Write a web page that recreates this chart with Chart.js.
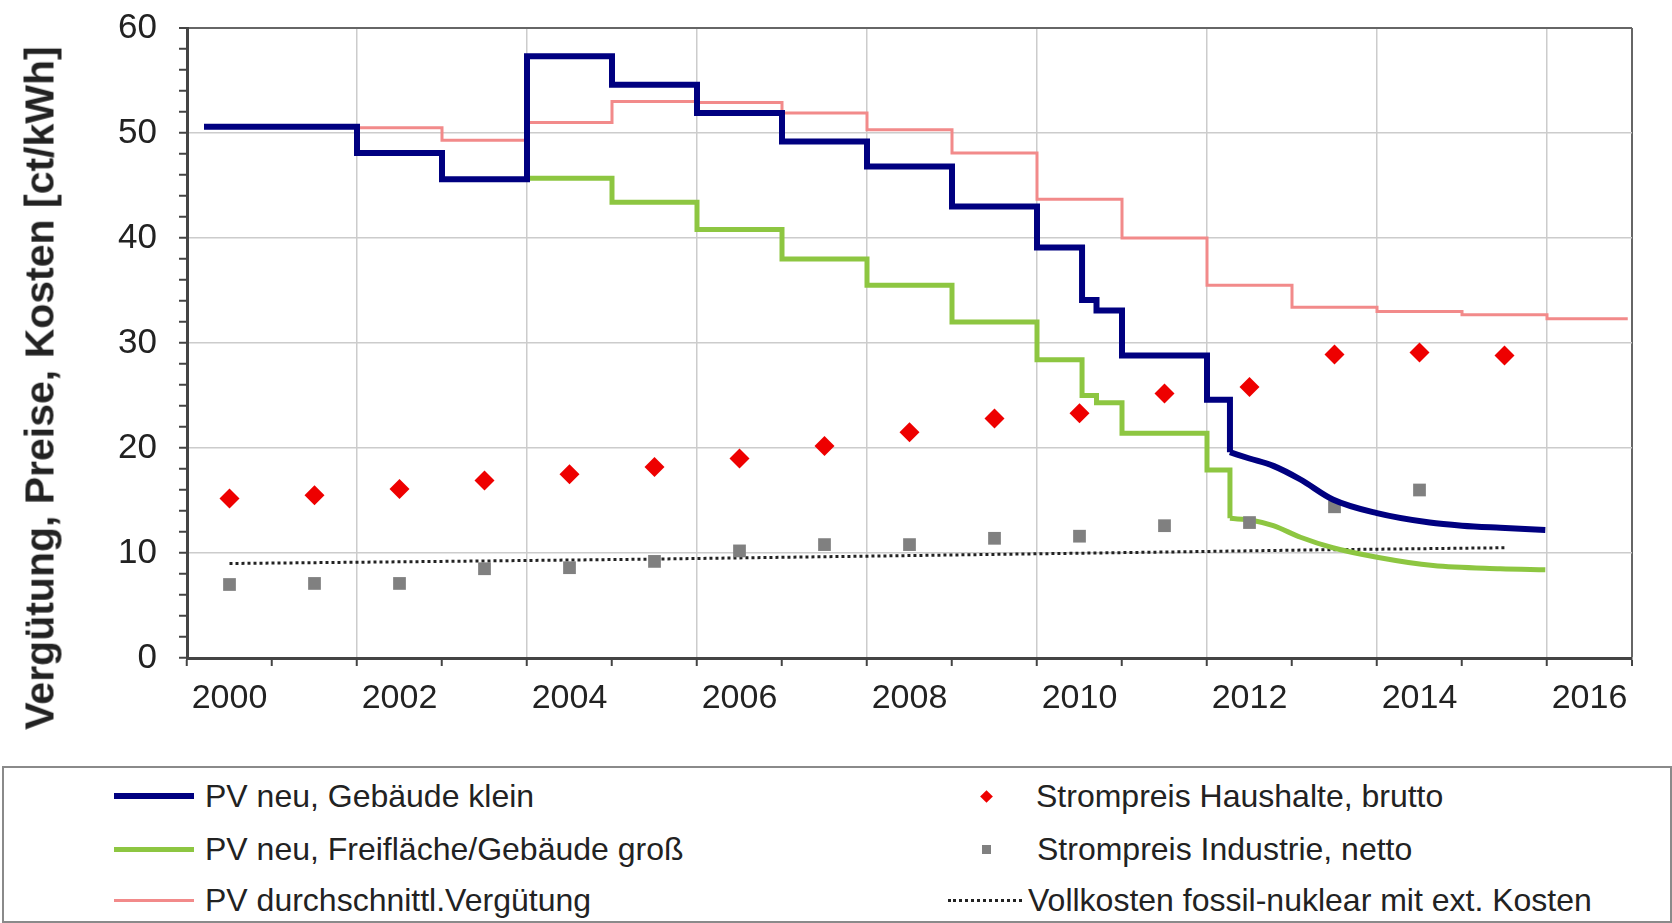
<!DOCTYPE html>
<html>
<head>
<meta charset="utf-8">
<script src="https://cdn.jsdelivr.net/npm/chart.js@4.4.0/dist/chart.umd.min.js"></script>
<style>
  html, body { margin: 0; padding: 0; background: #fff; }
  body { width: 1672px; height: 923px; position: relative; overflow: hidden;
         font-family: "Liberation Sans", Arial, sans-serif; color: #222; }
  #chartBox { position: absolute; left: 0; top: 0; width: 1672px; height: 760px; }
  #ytitle { position: absolute; left: 40px; top: 388px; transform: translate(-50%, -50%) rotate(-90deg);
            font-weight: bold; font-size: 41px; white-space: nowrap; }
  #legend { position: absolute; left: 2px; top: 766px; width: 1666px; height: 153px; border: 2px solid #8a8a8a; background: #fff; }
  .item { position: absolute; height: 40px; display: flex; align-items: center; font-size: 32px; white-space: nowrap; }
  .line { display: inline-block; width: 80px; margin-right: 11px; }
  .diamond { display: inline-block; width: 9px; height: 9px; background: #ee0000; transform: rotate(45deg); }
  .square { display: inline-block; width: 9px; height: 9px; background: #808080; }
</style>
</head>
<body>
<div id="chartBox"><canvas id="chart" width="1672" height="760"></canvas></div>
<div id="ytitle">Vergütung, Preise, Kosten [ct/kWh]</div>
<div id="legend">
  <div class="item" style="left:110px; top:8px;"><span class="line" style="height:6px; background:#000080;"></span>PV neu, Gebäude klein</div>
  <div class="item" style="left:110px; top:61px;"><span class="line" style="height:5px; background:#8dc641;"></span>PV neu, Freifläche/Gebäude groß</div>
  <div class="item" style="left:110px; top:112px;"><span class="line" style="height:3px; background:#f28a8a;"></span>PV durchschnittl.Vergütung</div>
  <div class="item" style="left:978px; top:8px;"><span class="diamond" style="margin-right:45px;"></span>Strompreis Haushalte, brutto</div>
  <div class="item" style="left:978px; top:61px;"><span class="square" style="margin-right:46px;"></span>Strompreis Industrie, netto</div>
  <div class="item" style="left:944px; top:112px;"><span class="line" style="width:74px; margin-right:6px; border-top:3px dotted #222;"></span>Vollkosten fossil-nuklear mit ext. Kosten</div>
</div>
<script>
// PV neu, Gebäude klein: stepped tariff, then gradual monthly decline
const blueStepYears  = [2000.2, 2002, 2003, 2004, 2005, 2006, 2007, 2008, 2009, 2010, 2010.53, 2010.7, 2011, 2012, 2012.27];
const blueStepValues = [50.6, 48.1, 45.6, 57.3, 54.6, 51.9, 49.2, 46.8, 43.0, 39.1, 34.1, 33.1, 28.8, 24.6, 19.6];
const blueTailYears  = [2012.27, 2012.5, 2012.78, 2013.1, 2013.48, 2014.0, 2014.62, 2015.0, 2015.45, 2015.98];
const blueTailValues = [19.6, 19.0, 18.3, 17.0, 15.1, 13.8, 12.9, 12.6, 12.4, 12.2];

// PV neu, Freifläche/Gebäude groß
const greenStepYears  = [2004, 2005, 2006, 2007, 2008, 2009, 2010, 2010.53, 2010.7, 2011, 2012, 2012.27];
const greenStepValues = [45.7, 43.4, 40.8, 38.0, 35.5, 32.0, 28.4, 25.0, 24.3, 21.4, 17.9, 13.3];
const greenTailYears  = [2012.27, 2012.54, 2012.78, 2013.1, 2013.48, 2014.0, 2014.66, 2015.45, 2015.98];
const greenTailValues = [13.3, 13.1, 12.6, 11.5, 10.5, 9.6, 8.8, 8.5, 8.4];

// PV durchschnittl. Vergütung
const pinkYears  = [2000.2, 2002, 2003, 2004, 2005, 2006, 2007, 2008, 2009, 2010, 2011, 2012, 2013, 2014, 2015, 2016, 2016.95];
const pinkValues = [50.6, 50.5, 49.3, 51.0, 53.0, 52.9, 51.9, 50.3, 48.1, 43.7, 40.0, 35.5, 33.4, 33.0, 32.7, 32.3, 32.3];

// Strompreise (mid-year)
const householdYears  = [2000.5, 2001.5, 2002.5, 2003.5, 2004.5, 2005.5, 2006.5, 2007.5, 2008.5, 2009.5, 2010.5, 2011.5, 2012.5, 2013.5, 2014.5, 2015.5];
const householdValues = [15.2, 15.5, 16.1, 16.9, 17.5, 18.2, 19.0, 20.2, 21.5, 22.8, 23.3, 25.2, 25.8, 28.9, 29.1, 28.8];
const industryYears   = [2000.5, 2001.5, 2002.5, 2003.5, 2004.5, 2005.5, 2006.5, 2007.5, 2008.5, 2009.5, 2010.5, 2011.5, 2012.5, 2013.5, 2014.5];
const industryValues  = [7.0, 7.1, 7.1, 8.5, 8.6, 9.2, 10.2, 10.8, 10.8, 11.4, 11.6, 12.6, 12.9, 14.4, 16.0];

// Vollkosten fossil-nuklear mit ext. Kosten
const fullCostYears  = [2000.5, 2003, 2005.3, 2008, 2010.7, 2013.3, 2015.5];
const fullCostValues = [9.0, 9.2, 9.4, 9.7, 10.0, 10.3, 10.5];

const xTickLabelEvery = 2;

const toPoints = (xs, ys) => xs.map((x, i) => ({ x: x, y: ys[i] }));

Chart.defaults.font.family = '"Liberation Sans", Arial, sans-serif';
Chart.defaults.color = '#222';

const NAVY = '#000080';
const GREEN = '#8dc641';
const PINK = '#f28a8a';

new Chart(document.getElementById('chart').getContext('2d'), {
  type: 'line',
  data: {
    datasets: [
      { label: 'PV neu, Gebäude klein', data: toPoints(blueStepYears, blueStepValues),
        borderColor: NAVY, borderWidth: 6, stepped: true, pointRadius: 0, borderJoinStyle: 'miter' },
      { label: 'PV neu, Gebäude klein', data: toPoints(blueTailYears, blueTailValues),
        borderColor: NAVY, borderWidth: 6, cubicInterpolationMode: 'monotone', pointRadius: 0 },
      { label: 'Strompreis Industrie, netto', data: toPoints(industryYears, industryValues),
        showLine: false, pointStyle: 'rect', pointRadius: 9, backgroundColor: '#808080', borderWidth: 0 },
      { label: 'PV neu, Freifläche/Gebäude groß', data: toPoints(greenStepYears, greenStepValues),
        borderColor: GREEN, borderWidth: 5, stepped: true, pointRadius: 0, borderJoinStyle: 'miter' },
      { label: 'PV neu, Freifläche/Gebäude groß', data: toPoints(greenTailYears, greenTailValues),
        borderColor: GREEN, borderWidth: 5, cubicInterpolationMode: 'monotone', pointRadius: 0 },
      { label: 'PV durchschnittl.Vergütung', data: toPoints(pinkYears, pinkValues),
        borderColor: PINK, borderWidth: 3, stepped: true, pointRadius: 0 },
      { label: 'Strompreis Haushalte, brutto', data: toPoints(householdYears, householdValues),
        showLine: false, pointStyle: 'rectRot', pointRadius: 10, backgroundColor: '#ee0000', borderWidth: 0 },
      { label: 'Vollkosten fossil-nuklear mit ext. Kosten', data: toPoints(fullCostYears, fullCostValues),
        borderColor: '#222', borderWidth: 3, borderDash: [3, 3], pointRadius: 0 }
    ]
  },
  options: {
    responsive: false,
    animation: false,
    layout: { padding: { top: 28, right: 40, left: 0, bottom: 0 } },
    plugins: { legend: { display: false }, tooltip: { enabled: false } },
    scales: {
      x: {
        type: 'linear', min: 2000, max: 2017,
        afterFit: s => { s.height = 102; s.paddingLeft = 0; s.paddingRight = 0; },
        border: { color: '#444', width: 3 },
        grid: {
          color: c => c.tick.value === 2017 ? '#666' : (c.tick.value % xTickLabelEvery === 0 ? '#cccccc' : 'rgba(0,0,0,0)'),
          lineWidth: c => c.tick.value === 2017 ? 2 : 1.5,
          tickColor: '#444', tickLength: 8, tickWidth: 2
        },
        ticks: {
          stepSize: 1, autoSkip: false, maxRotation: 0, labelOffset: 42.5, padding: 12,
          font: { size: 34 }, color: '#222',
          callback: v => (v % xTickLabelEvery === 0 && v < 2017) ? String(v) : ''
        }
      },
      y: {
        min: 0, max: 60,
        afterFit: s => { s.width = 187; s.paddingTop = 0; s.paddingBottom = 0; },
        border: { color: '#444', width: 3 },
        grid: {
          color: c => c.tick.value === 60 ? '#666' : (c.tick.value % 10 === 0 ? '#cccccc' : 'rgba(0,0,0,0)'),
          lineWidth: c => c.tick.value === 60 ? 2 : 1.5,
          tickColor: '#444', tickLength: 8, tickWidth: 2
        },
        ticks: {
          stepSize: 2, autoSkip: false, padding: 22,
          font: { size: 35 }, color: '#222',
          callback: v => v % 10 === 0 ? String(v) : ''
        }
      }
    }
  }
});
</script>
</body>
</html>
